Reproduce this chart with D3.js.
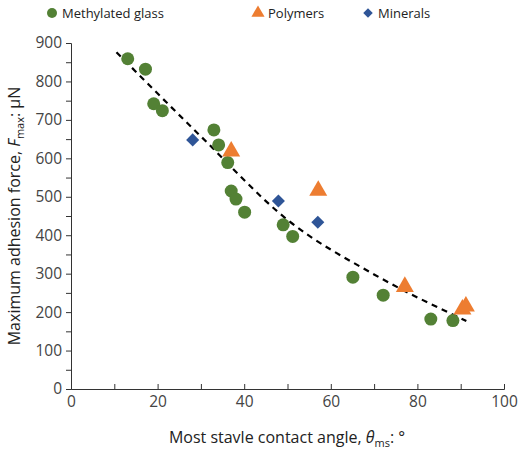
<!DOCTYPE html>
<html><head><meta charset="utf-8">
<script src="https://cdn.jsdelivr.net/npm/d3@7"></script>
<style>body{margin:0;background:#fff}</style></head>
<body><svg id="c" width="520" height="452"></svg>
<script>
const glassX=[13.1,17.2,19.1,21.1,33,34.1,36.2,37,38.1,40.1,49,51.2,65.1,72.1,83.1,88.2];
const glassY=[859,832,742,724,674,635,589,515,494,460,427,397,291,244,182,178];
const polyX=[37,57.1,77.1,90.4,91.2];
const polyY=[618,516,266,207,215];
const minX=[28.1,47.9,57];
const minY=[648,489,434];
const trendX=[10.5,30,50,70,91.3];
const trendY=[876,657,440,298,177];
const xTicks=[0,20,40,60,80,100];
const yTicks=[0,100,200,300,400,500,600,700,800,900];

const svg=d3.select("#c");
const font="'Open Sans', 'Noto Sans', sans-serif";
const x=d3.scaleLinear().domain([0,100]).range([71,504]);
const y=d3.scaleLinear().domain([0,900]).range([389,43]);
const green="#538135",orange="#ED7D31",blue="#2F5597";

const xa=svg.append("g").attr("transform","translate(0,389)")
 .call(d3.axisBottom(x).tickValues(d3.range(0,101,10)).tickSize(-5).tickFormat(d=>xTicks.includes(d)?d:""));
const ya=svg.append("g").attr("transform","translate(71,0)")
 .call(d3.axisLeft(y).tickValues(d3.range(0,901,50)).tickSize(5).tickFormat(d=>yTicks.includes(d)?d:""));
[xa,ya].forEach(a=>{a.selectAll("path,line").attr("stroke","#333").attr("stroke-width",1);
 a.selectAll("text").attr("font-family",font).attr("font-size",15.5).attr("fill","#444");});
xa.selectAll("text").attr("dy","0.95em").attr("y",3);
ya.selectAll("text").attr("x",-9);

svg.append("path").datum(trendX.map((d,i)=>[d,trendY[i]]))
 .attr("d",d3.line().x(d=>x(d[0])).y(d=>y(d[1])).curve(d3.curveMonotoneX))
 .attr("fill","none").attr("stroke","#000").attr("stroke-width",2.2).attr("stroke-dasharray","6,5");

svg.append("g").selectAll("circle").data(glassX).join("circle")
 .attr("cx",d=>x(d)).attr("cy",(d,i)=>y(glassY[i])).attr("r",6.5).attr("fill",green);
const tri=d3.symbol().type(d3.symbolTriangle).size(140);
svg.append("g").selectAll("path").data(polyX).join("path")
 .attr("transform",(d,i)=>`translate(${x(d)},${y(polyY[i])})`).attr("d",tri).attr("fill",orange);
const dia=d3.symbol().type(d3.symbolSquare).size(85);
svg.append("g").selectAll("path").data(minX).join("path")
 .attr("transform",(d,i)=>`translate(${x(d)},${y(minY[i])}) rotate(45)`).attr("d",dia).attr("fill",blue);

const lg=svg.append("g").attr("font-family",font).attr("font-size",13).attr("fill","#222");
lg.append("circle").attr("cx",52).attr("cy",13).attr("r",5).attr("fill",green);
lg.append("text").attr("x",62).attr("y",17.5).text("Methylated glass");
lg.append("path").attr("transform","translate(258,13)").attr("d",d3.symbol().type(d3.symbolTriangle).size(75)).attr("fill",orange);
lg.append("text").attr("x",268).attr("y",17.5).text("Polymers");
lg.append("path").attr("transform","translate(368,13) rotate(45)").attr("d",d3.symbol().type(d3.symbolSquare).size(45)).attr("fill",blue);
lg.append("text").attr("x",378).attr("y",17.5).text("Minerals");

const xt=svg.append("text").attr("x",287).attr("y",443).attr("text-anchor","middle")
 .attr("font-family",font).attr("font-size",16).attr("fill","#222");
xt.append("tspan").text("Most stavle contact angle, ");
xt.append("tspan").attr("font-style","italic").text("θ");
xt.append("tspan").attr("font-size",11).attr("dy",4).text("ms");
xt.append("tspan").attr("dy",-4).text(": °");
const yt=svg.append("text").attr("transform","translate(20,216) rotate(-90)").attr("text-anchor","middle")
 .attr("font-family",font).attr("font-size",16).attr("fill","#222");
yt.append("tspan").text("Maximum adhesion force, ");
yt.append("tspan").attr("font-style","italic").text("F");
yt.append("tspan").attr("font-size",11).attr("dy",4).text("max");
yt.append("tspan").attr("dy",-4).text(": μN");
</script></body></html>
